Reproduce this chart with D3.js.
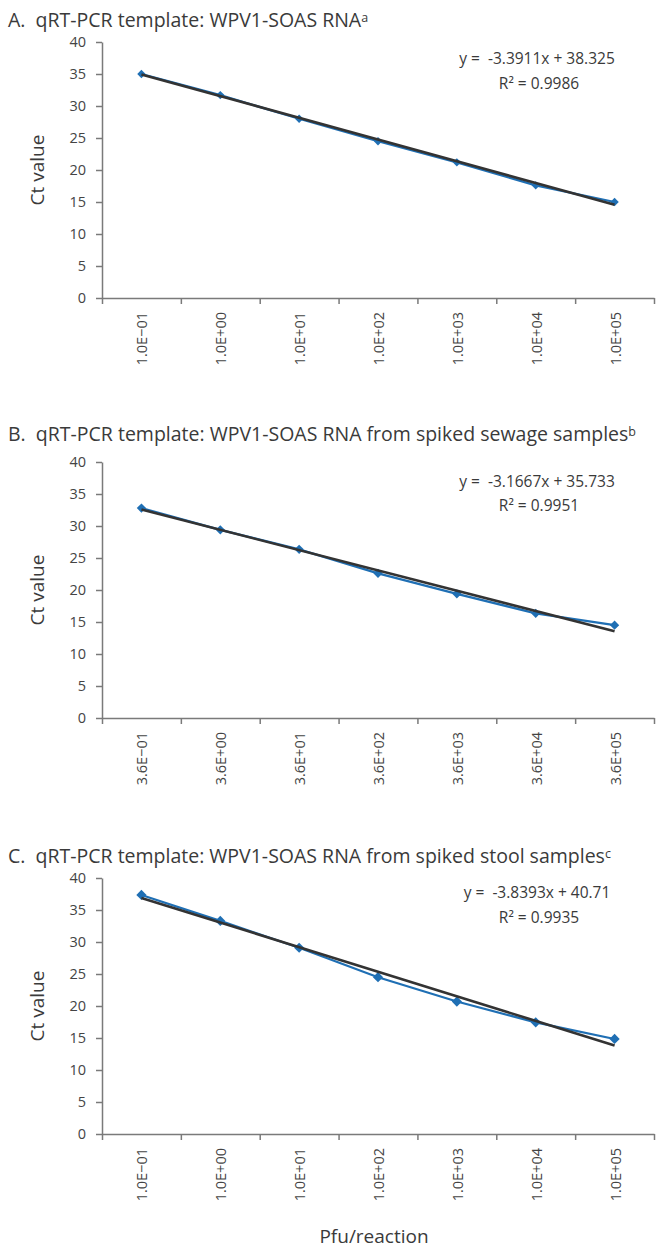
<!DOCTYPE html>
<html lang="en">
<head>
<meta charset="utf-8">
<title>qRT-PCR standard curves</title>
<script src="https://cdn.jsdelivr.net/npm/d3@7"></script>
<style>
  body { margin: 0; background: #fff; font-family: "Open Sans", sans-serif; }
  .title { font-size: 19.5px; fill: #3a3a3a; white-space: pre; }
  .axis text { font-size: 14.5px; fill: #444; font-family: "Open Sans", sans-serif; }
  .axis path, .axis line { stroke: #7a7a7a; stroke-width: 1.5px; }
  .xlab { font-size: 14.5px; fill: #444; }
  .eq { font-size: 15.5px; fill: #3a3a3a; white-space: pre; }
  .ylabel, .xtitle { font-size: 19px; fill: #3a3a3a; }
</style>
</head>
<body>
<div id="chart"></div>
<script>
// categories (x tick labels) per panel
var labelsA = ["1.0E\u221201", "1.0E+00", "1.0E+01", "1.0E+02", "1.0E+03", "1.0E+04", "1.0E+05"];
var labelsB = ["3.6E\u221201", "3.6E+00", "3.6E+01", "3.6E+02", "3.6E+03", "3.6E+04", "3.6E+05"];
var labelsC = ["1.0E\u221201", "1.0E+00", "1.0E+01", "1.0E+02", "1.0E+03", "1.0E+04", "1.0E+05"];

// Ct values
var ctA = [35.0, 31.7, 28.0, 24.5, 21.2, 17.6, 15.0];
var ctB = [32.8, 29.4, 26.35, 22.6, 19.4, 16.35, 14.5];
var ctC = [37.35, 33.3, 29.1, 24.5, 20.7, 17.45, 14.85];

// trendline equations shown on each panel
var slopes = [-3.3911, -3.1667, -3.8393];
var intercepts = [38.325, 35.733, 40.71];
var eqTexts = ["y =  -3.3911x + 38.325", "y =  -3.1667x + 35.733", "y =  -3.8393x + 40.71"];
var r2Texts = ["R\u00b2 = 0.9986", "R\u00b2 = 0.9951", "R\u00b2 = 0.9935"];

var titles = ["A.  qRT-PCR template: WPV1-SOAS RNA",
              "B.  qRT-PCR template: WPV1-SOAS RNA from spiked sewage samples",
              "C.  qRT-PCR template: WPV1-SOAS RNA from spiked stool samples"];
var supers = ["a", "b", "c"];

var yTicks = [0, 5, 10, 15, 20, 25, 30, 35, 40];

// layout
var W = 666, H = 1252;
var plotLeft = 102, plotRight = 654, plotH = 256;
var panels = [
  {top: 42,  titleDy: -15, eqDy: 22, r2Dy: 47, marker: 9,  labels: labelsA, ct: ctA},
  {top: 462, titleDy: -21, eqDy: 25, r2Dy: 49, marker: 10, labels: labelsB, ct: ctB},
  {top: 878, titleDy: -15, eqDy: 20, r2Dy: 45, marker: 11, labels: labelsC, ct: ctC}
];

var svg = d3.select("#chart").append("svg")
  .attr("width", W)
  .attr("height", H);

var diamond = d3.symbol().type(d3.symbolDiamond2);

panels.forEach(function(p, k) {
  var g = svg.append("g");

  var x = d3.scaleLinear().domain([0, p.labels.length]).range([plotLeft, plotRight]);
  var y = d3.scaleLinear().domain([0, 40]).range([p.top + plotH, p.top]);

  // title with superscript note
  var t = g.append("text")
    .attr("class", "title")
    .attr("x", 8)
    .attr("y", p.top + p.titleDy)
    .text(titles[k]);
  t.append("tspan")
    .attr("font-size", "12.5px")
    .attr("dy", -5)
    .text(supers[k]);

  // y axis
  g.append("g")
    .attr("class", "axis")
    .attr("transform", "translate(" + plotLeft + ",0)")
    .call(d3.axisLeft(y).tickValues(yTicks).tickSize(6).tickSizeOuter(0).tickPadding(10));

  // x axis (ticks between categories)
  g.append("g")
    .attr("class", "axis")
    .attr("transform", "translate(0," + (p.top + plotH) + ")")
    .call(d3.axisBottom(x).tickValues(d3.range(p.labels.length + 1)).tickFormat("").tickSize(6).tickSizeOuter(0));

  // rotated category labels
  g.selectAll(".xlab")
    .data(p.labels)
    .enter()
    .append("text")
    .attr("class", "xlab")
    .attr("text-anchor", "end")
    .attr("transform", function(d, i) {
      return "translate(" + (x(i + 0.5) + 6) + "," + (p.top + plotH + 14) + ") rotate(-90)";
    })
    .text(function(d) { return d; });

  // y axis title
  g.append("text")
    .attr("class", "ylabel")
    .attr("text-anchor", "middle")
    .attr("transform", "translate(44," + (p.top + plotH / 2) + ") rotate(-90)")
    .text("Ct value");

  // data line
  var line = d3.line()
    .x(function(d, i) { return x(i + 0.5); })
    .y(function(d) { return y(d); });

  g.append("path")
    .datum(p.ct)
    .attr("d", line)
    .attr("fill", "none")
    .attr("stroke", "#1f6fb4")
    .attr("stroke-width", 2.2);

  g.selectAll(".pt")
    .data(p.ct)
    .enter()
    .append("path")
    .attr("class", "pt")
    .attr("transform", function(d, i) { return "translate(" + x(i + 0.5) + "," + y(d) + ")"; })
    .attr("d", diamond.size(p.marker * p.marker * 0.55))
    .attr("fill", "#1f6fb4");

  // linear trendline from displayed equation
  var ends = [1, p.labels.length];
  g.append("path")
    .datum(ends)
    .attr("d", d3.line()
      .x(function(d) { return x(d - 0.5); })
      .y(function(d) { return y(slopes[k] * d + intercepts[k]); }))
    .attr("fill", "none")
    .attr("stroke", "#333333")
    .attr("stroke-width", 2.6);

  // equation text
  g.append("text")
    .attr("class", "eq")
    .attr("text-anchor", "middle")
    .attr("x", 537)
    .attr("y", p.top + p.eqDy)
    .text(eqTexts[k]);
  g.append("text")
    .attr("class", "eq")
    .attr("text-anchor", "middle")
    .attr("x", 539)
    .attr("y", p.top + p.r2Dy)
    .text(r2Texts[k]);
});

// shared x axis title
svg.append("text")
  .attr("class", "xtitle")
  .attr("text-anchor", "middle")
  .attr("x", 374)
  .attr("y", 1243)
  .text("Pfu/reaction");
</script>
</body>
</html>
